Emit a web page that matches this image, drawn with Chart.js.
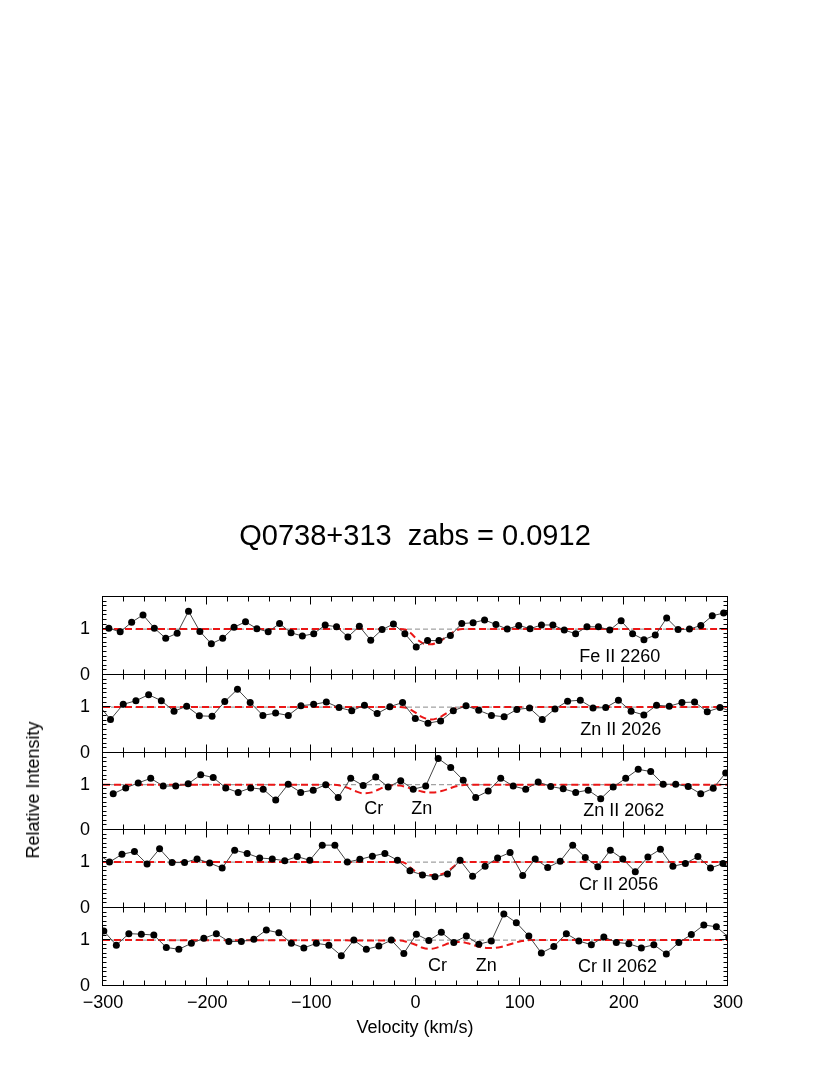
<!DOCTYPE html>
<html><head><meta charset="utf-8">
<script src="https://cdn.jsdelivr.net/npm/chart.js@4/dist/chart.umd.min.js"></script>
<style>
html,body{margin:0;padding:0;background:#fff;}
#wrap{position:relative;width:830px;height:1075px;overflow:hidden;font-family:"Liberation Sans",Arial,Helvetica,sans-serif;color:#000;}
canvas{position:absolute;left:0;top:0;}
.t{position:absolute;white-space:pre;line-height:1;transform:translate(-50%,-50%);}
</style></head><body>
<div id="wrap">
<canvas id="c1" width="830" height="1075"></canvas>
<canvas id="c2" width="830" height="1075"></canvas>
<canvas id="c3" width="830" height="1075"></canvas>
<canvas id="c4" width="830" height="1075"></canvas>
<canvas id="c5" width="830" height="1075"></canvas>
<div class="t" style="left:415px;top:535px;font-size:29px">Q0738+313  zabs = 0.0912</div>
<div class="t" style="left:33px;top:790px;font-size:18px;transform:translate(-50%,-50%) rotate(-90deg)">Relative Intensity</div>
<div class="t" style="left:415px;top:1027px;font-size:18px">Velocity (km/s)</div>
</div>
<script>
// ---------------- data ----------------
const velocityRange = [-300, 300];
const intensityRange = [0, 1.7];
const xTickStep = 20;
const yTickStep = 0.1;
const lineNames = ['Fe II 2260', 'Zn II 2026', 'Zn II 2062', 'Cr II 2056', 'Cr II 2062'];

// Fe II 2260
const vel1 = [-294.4,-283.5,-272.5,-261.6,-250.7,-239.8,-228.8,-217.9,-207.0,-196.0,
  -185.1,-174.2,-163.2,-152.3,-141.4,-130.5,-119.5,-108.6,-97.7,-86.7,
  -75.8,-64.9,-53.9,-43.0,-32.1,-21.2,-10.2,0.7,11.6,22.5,
  33.5,44.4,55.3,66.3,77.2,88.1,99.1,110.0,120.9,131.9,
  142.8,153.7,164.6,175.6,186.5,197.4,208.4,219.3,230.2,241.1,
  252.1,263.0,273.9,284.9,295.8];
const flux1 = [1.02,0.94,1.15,1.31,1.02,0.80,0.91,1.39,0.95,0.68,
  0.80,1.04,1.16,1.01,0.94,1.12,0.92,0.85,0.90,1.09,
  1.05,0.83,1.06,0.76,0.99,1.11,0.90,0.61,0.75,0.75,
  0.86,1.12,1.14,1.20,1.10,1.00,1.08,1.01,1.09,1.09,
  0.98,0.90,1.05,1.05,0.98,1.18,0.90,0.77,0.87,1.24,
  0.99,1.00,1.08,1.29,1.35];
const modelV1 = [-300,-15,-10,-5,0,5,10,15,20,25,30,35,40,45,300];
const modelY1 = [1,1,0.99,0.92,0.81,0.72,0.67,0.67,0.70,0.76,0.84,0.92,0.98,1,1];

// Zn II 2026
const vel2 = [-305.0,-292.8,-280.6,-268.4,-256.2,-244.0,-231.8,-219.7,-207.5,-195.3,-183.1,
  -170.9,-158.7,-146.5,-134.3,-122.1,-110.0,-97.8,-85.6,-73.4,-61.2,
  -49.0,-36.8,-24.6,-12.4,-0.2,12.0,24.1,36.3,48.5,60.7,
  72.9,85.1,97.3,109.5,121.7,133.9,146.0,158.2,170.4,182.6,
  194.8,207.0,219.2,231.4,243.6,255.8,267.9,280.1,292.3,304.5];
const flux2 = [1.07,0.73,1.06,1.14,1.27,1.14,0.91,1.02,0.81,0.80,1.12,
  1.39,1.10,0.82,0.87,0.82,1.03,1.06,1.11,0.99,0.92,
  1.04,0.86,1.01,1.10,0.75,0.65,0.70,0.92,1.03,0.93,
  0.82,0.79,0.95,0.98,0.73,0.96,1.13,1.15,0.98,0.99,
  1.15,0.91,0.83,1.04,1.02,1.10,1.11,0.90,0.99,0.90];
const modelV2 = [-300,-15,-10,-5,0,5,10,15,20,25,30,35,40,45,300];
const modelY2 = [1,1,0.99,0.95,0.88,0.80,0.75,0.73,0.75,0.80,0.87,0.94,0.98,1,1];

// Zn II 2062
const vel3 = [-290.2,-278.2,-266.2,-254.2,-242.2,-230.2,-218.2,-206.2,-194.2,-182.2,
  -170.2,-158.2,-146.2,-134.2,-122.2,-110.2,-98.2,-86.2,-74.2,-62.2,
  -50.2,-38.2,-26.2,-14.2,-2.2,9.8,21.8,33.8,45.8,57.8,
  69.8,81.8,93.8,105.8,117.8,129.8,141.8,153.8,165.8,177.8,
  189.8,201.8,213.8,225.8,237.8,249.8,261.8,273.8,285.8,297.8];
const flux3 = [0.80,0.93,1.04,1.14,0.97,0.97,1.02,1.22,1.16,0.93,
  0.83,0.93,0.90,0.66,1.01,0.83,0.88,1.00,0.72,1.14,
  0.98,1.17,0.95,1.09,0.90,0.97,1.58,1.38,1.10,0.72,
  0.86,1.14,0.97,0.90,1.06,0.96,0.91,0.83,0.88,0.69,
  0.95,1.14,1.34,1.29,1.01,1.01,0.96,0.80,0.92,1.26];
const modelV3 = [-300,-80,-72,-65,-58,-50,-42,-35,-28,-22,-15,-8,0,6,12,18,25,32,38,44,50,300];
const modelY3 = [1,1,0.98,0.93,0.86,0.81,0.83,0.90,0.97,0.99,0.98,0.94,0.89,0.85,0.83,0.83,0.86,0.91,0.96,0.99,1,1];

// Cr II 2056
const vel4 = [-305.8,-293.8,-281.8,-269.8,-257.7,-245.7,-233.7,-221.7,-209.7,-197.6,-185.6,
  -173.6,-161.6,-149.6,-137.5,-125.5,-113.5,-101.5,-89.5,-77.4,-65.4,
  -53.4,-41.4,-29.4,-17.3,-5.3,6.7,18.7,30.7,42.8,54.8,
  66.8,78.8,90.8,102.9,114.9,126.9,138.9,150.9,163.0,175.0,
  187.0,199.0,211.0,223.1,235.1,247.1,259.1,271.1,283.2,295.2,307.2];
const flux4 = [1.19,1.00,1.17,1.23,0.96,1.29,0.99,0.99,1.07,0.98,0.87,
  1.26,1.19,1.09,1.07,1.03,1.12,1.04,1.37,1.37,1.00,
  1.06,1.13,1.19,1.04,0.81,0.72,0.68,0.74,1.04,0.69,
  0.91,1.09,1.21,0.71,1.07,0.88,1.02,1.37,1.10,0.90,
  1.26,1.07,0.79,1.11,1.28,0.91,0.97,1.12,0.87,0.97,0.80];
const modelV4 = [-300,-15,-10,-5,0,6,12,18,24,30,35,40,45,300];
const modelY4 = [1,1,0.98,0.88,0.80,0.74,0.72,0.72,0.73,0.78,0.87,0.96,1,1];

// Cr II 2062
const vel5 = [-299.2,-287.2,-275.2,-263.2,-251.2,-239.2,-227.2,-215.2,-203.2,-191.2,
  -179.2,-167.2,-155.2,-143.2,-131.2,-119.2,-107.2,-95.2,-83.2,-71.2,
  -59.2,-47.2,-35.2,-23.2,-11.2,0.8,12.8,24.8,36.8,48.8,
  60.8,72.8,84.8,96.8,108.8,120.8,132.8,144.8,156.8,168.8,
  180.8,192.8,204.8,216.8,228.8,240.8,252.8,264.8,276.8,288.8,300.8];
const flux5 = [1.20,0.89,1.14,1.13,1.11,0.84,0.80,0.93,1.04,1.14,
  0.97,0.97,1.02,1.22,1.16,0.93,0.83,0.93,0.89,0.66,
  1.00,0.80,0.87,1.00,0.71,1.13,0.99,1.17,0.95,1.09,
  0.91,0.98,1.57,1.38,1.09,0.72,0.86,1.14,0.98,0.90,
  1.07,0.95,0.92,0.83,0.90,0.70,0.95,1.12,1.33,1.29,1.06];
const modelV5 = [-300,-15,-8,0,6,12,18,25,32,38,44,50,56,62,68,75,82,88,95,102,110,300];
const modelY5 = [1,0.99,0.96,0.90,0.84,0.81,0.82,0.87,0.93,0.96,0.96,0.93,0.89,0.85,0.83,0.83,0.85,0.89,0.94,0.98,1,1];

const continuumV = [-300, 300];
const continuumY = [1, 1];

// ---------------- layout / styles ----------------
const panels = [
  {id:'c1', vel:vel1, flux:flux1, mv:modelV1, my:modelY1, top:597, bottom:675,
   notes:[{t:lineNames[0], x:196, y:0.39}]},
  {id:'c2', vel:vel2, flux:flux2, mv:modelV2, my:modelY2, top:675, bottom:753,
   notes:[{t:lineNames[1], x:197, y:0.49}]},
  {id:'c3', vel:vel3, flux:flux3, mv:modelV3, my:modelY3, top:753, bottom:830,
   notes:[{t:lineNames[2], x:200, y:0.41},{t:'Cr', x:-40, y:0.47},{t:'Zn', x:6, y:0.47}]},
  {id:'c4', vel:vel4, flux:flux4, mv:modelV4, my:modelY4, top:830, bottom:908,
   notes:[{t:lineNames[3], x:195, y:0.49}]},
  {id:'c5', vel:vel5, flux:flux5, mv:modelV5, my:modelY5, top:908, bottom:986,
   notes:[{t:lineNames[4], x:194, y:0.42},{t:'Cr', x:21, y:0.44},{t:'Zn', x:68, y:0.44}]}
];

const FONT = '"Liberation Sans", Arial, Helvetica, sans-serif';
Chart.defaults.font.family = FONT;
Chart.defaults.color = '#000';

const framePlugin = {
  id: 'frame',
  afterDraw(chart) {
    const {ctx, chartArea: a, scales: {x, y}} = chart;
    const L = Math.round(a.left) - 0.5, R = Math.round(a.right) - 0.5;
    const T = Math.round(a.top) - 0.5, B = Math.round(a.bottom) - 0.5;
    ctx.save();
    ctx.strokeStyle = '#000';
    ctx.lineWidth = 1;
    ctx.beginPath();
    x.ticks.forEach(t => {
      const px = Math.round(x.getPixelForValue(t.value)) - 0.5;
      const major = Math.abs(Math.round(t.value) % 100) === 0;
      const len = major ? 8 : 5;
      ctx.moveTo(px, T); ctx.lineTo(px, T + len);
      ctx.moveTo(px, B); ctx.lineTo(px, B - len);
    });
    y.ticks.forEach(t => {
      const py = Math.round(y.getPixelForValue(t.value)) - 0.5;
      const major = Math.abs(t.value - Math.round(t.value)) < 1e-6;
      const len = major ? 8 : 4;
      ctx.moveTo(L, py); ctx.lineTo(L + len, py);
      ctx.moveTo(R, py); ctx.lineTo(R - len, py);
    });
    ctx.stroke();
    ctx.strokeRect(L, T, R - L, B - T);
    ctx.fillStyle = '#000';
    ctx.font = '18px ' + FONT;
    ctx.textAlign = 'center';
    ctx.textBaseline = 'middle';
    (chart.options.plugins.frame.notes || []).forEach(n => {
      ctx.fillText(n.t, x.getPixelForValue(n.x), y.getPixelForValue(n.y));
    });
    ctx.restore();
  }
};

function fmtVel(v) {
  const r = Math.round(v);
  return r < 0 ? '\u2212' + Math.abs(r) : String(r);
}

panels.forEach((p, k) => {
  const last = k === panels.length - 1;
  const xAxisH = last ? 30 : 0;
  const pts = p.vel.map((v, i) => ({x: v, y: p.flux[i]}));
  new Chart(document.getElementById(p.id), {
    type: 'line',
    data: {
      datasets: [
        {data: pts, showLine: false, pointRadius: c => (c.raw && (c.raw.x < -300.5 || c.raw.x > 301)) ? 0 : 3.5,
         pointBackgroundColor: '#000', pointBorderColor: '#000', pointBorderWidth: 0},
        {data: pts, borderColor: '#444', borderWidth: 1, pointRadius: 0, tension: 0, clip: 0},
        {data: p.mv.map((v, i) => ({x: v, y: p.my[i]})), borderColor: 'rgb(235,22,22)', borderWidth: 2,
         borderDash: [7, 4], pointRadius: 0, cubicInterpolationMode: 'monotone', clip: 0},
        {data: continuumV.map((v, i) => ({x: v, y: continuumY[i]})), borderColor: '#8a8a8a', borderWidth: 1,
         borderDash: [5, 3], pointRadius: 0, clip: 0}
      ]
    },
    options: {
      responsive: false,
      animation: false,
      events: [],
      layout: {padding: {left: 0, right: 102, top: p.top, bottom: 1075 - p.bottom - xAxisH}},
      plugins: {legend: {display: false}, tooltip: {enabled: false}, title: {display: false},
                frame: {notes: p.notes}},
      scales: {
        x: {type: 'linear', min: velocityRange[0], max: velocityRange[1],
            grid: {display: false, drawTicks: false}, border: {display: false},
            ticks: {display: last, stepSize: xTickStep, autoSkip: false, maxRotation: 0, padding: 6,
                    color: '#000', font: {size: 18},
                    callback: v => (Math.abs(Math.round(v) % 100) === 0 ? fmtVel(v) : '')},
            afterFit: s => { s.height = xAxisH; }},
        y: {type: 'linear', min: intensityRange[0], max: intensityRange[1],
            grid: {display: false, drawTicks: false}, border: {display: false},
            ticks: {stepSize: yTickStep, autoSkip: false, padding: 13, color: '#000', font: {size: 18},
                    callback: v => (Math.abs(v) < 1e-6 ? '0' : (Math.abs(v - 1) < 1e-6 ? '1' : ''))},
            afterFit: s => { s.width = 103; }}
      }
    },
    plugins: [framePlugin]
  });
});
</script>
</body></html>
